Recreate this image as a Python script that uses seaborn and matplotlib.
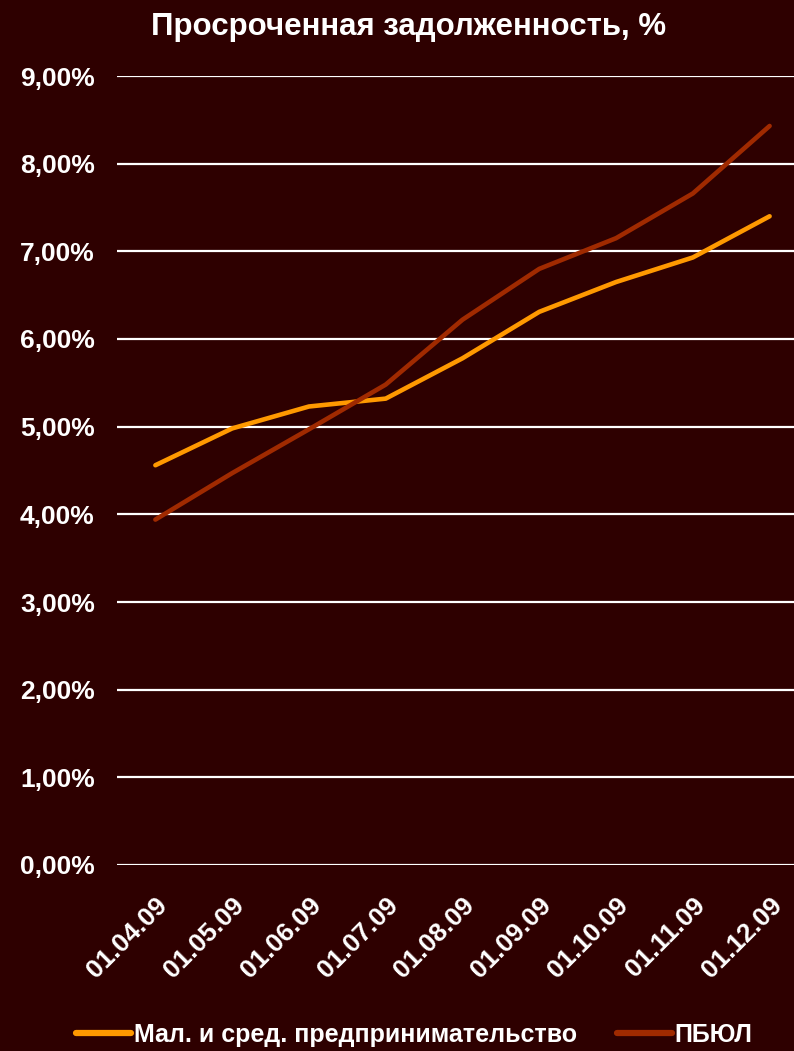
import matplotlib
matplotlib.use("Agg")
import matplotlib.pyplot as plt
import seaborn as sns
import pandas as pd
from matplotlib.lines import Line2D

dates = ["01.04.09", "01.05.09", "01.06.09", "01.07.09", "01.08.09",
         "01.09.09", "01.10.09", "01.11.09", "01.12.09"]
small_business = [4.56, 4.98, 5.23, 5.32, 5.78, 6.31, 6.65, 6.93, 7.40]
pbul = [3.94, 4.47, 4.97, 5.48, 6.22, 6.80, 7.15, 7.66, 8.43]
series_names = ["Мал. и сред. предпринимательство", "ПБЮЛ"]
yticks = [0, 1, 2, 3, 4, 5, 6, 7, 8, 9]
title = "Просроченная задолженность, %"

BG = "#2E0000"
colors = ["#FF9900", "#A02A00"]

sns.set_theme(style="white")
plt.rcParams["font.family"] = ["Liberation Sans", "DejaVu Sans"]
plt.rcParams["font.weight"] = "bold"

df = pd.DataFrame({
    "x": list(range(len(dates))) * 2,
    "value": small_business + pbul,
    "series": [series_names[0]] * len(dates) + [series_names[1]] * len(dates),
})

fig = plt.figure(figsize=(7.94, 10.51), dpi=100, facecolor=BG)
ax = fig.add_axes([117 / 794, 1 - 865 / 1051, (808 - 117) / 794, (865 - 76) / 1051])
ax.set_facecolor(BG)

for v in yticks:
    ax.axhline(v, color="white", lw=1.6, zorder=1)

sns.lineplot(data=df, x="x", y="value", hue="series", palette=colors,
             linewidth=3.3, ax=ax, legend=False, zorder=3)

ax.set_xlim(-0.5, len(dates) - 0.5)
ax.set_ylim(0, 9)
ax.set_yticks(yticks)
ax.set_yticklabels([f"{v:.2f}".replace(".", ",") + "%" for v in yticks],
                   color="white", fontsize=19, fontweight="bold")
ax.set_xticks(range(len(dates)))
ax.set_xticklabels(dates, rotation=45, ha="right", rotation_mode="anchor",
                   color="white", fontsize=19, fontweight="bold")
ax.tick_params(axis="y", length=0, pad=16)
ax.tick_params(axis="x", length=0, pad=20)
ax.set_xlabel("")
ax.set_ylabel("")
for s in ax.spines.values():
    s.set_visible(False)

fig.text(409 / 794, 1 - 27 / 1051, title, ha="center", va="center",
         color="white", fontsize=22.5, fontweight="bold")

handles = [Line2D([], [], color=c, lw=4.5) for c in colors]
leg = fig.legend(handles, series_names, loc="center", bbox_to_anchor=(414 / 794, 1 - 1035 / 1051),
                 ncol=2, frameon=False, fontsize=18, handlelength=2.2, handletextpad=0.12,
                 columnspacing=1.6)
for t in leg.get_texts():
    t.set_color("white")
    t.set_fontweight("bold")

fig.savefig("out.png", dpi=100, facecolor=BG)
